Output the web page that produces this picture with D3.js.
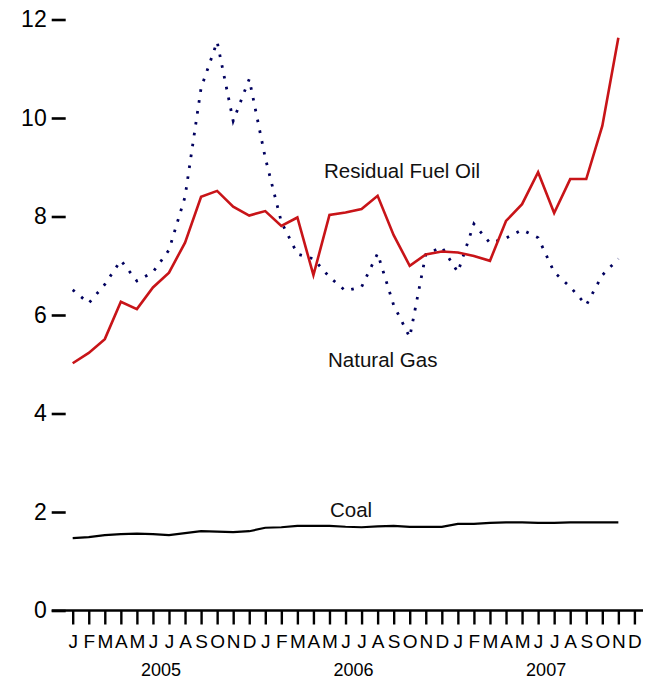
<!DOCTYPE html>
<html>
<head>
<meta charset="utf-8">
<script src="https://cdn.jsdelivr.net/npm/d3@7"></script>
<style>
  html, body { margin: 0; padding: 0; background: #fff; }
  svg { display: block; font-family: "Liberation Sans", Arial, sans-serif; }
</style>
</head>
<body>
<svg id="chart" width="652" height="679"></svg>
<script>
// ---- data ----
const monthLetters = ["J","F","M","A","M","J","J","A","S","O","N","D"];
const years = ["2005", "2006", "2007"];
const yTicks = [0, 2, 4, 6, 8, 10, 12];

// Monthly values, Jan 2005 .. Nov 2007 (35 months)
const residualFuelOil = [
  5.02, 5.23, 5.51, 6.27, 6.12, 6.56, 6.86, 7.47, 8.40, 8.52, 8.20, 8.02,
  8.11, 7.81, 7.98, 6.81, 8.03, 8.08, 8.15, 8.42, 7.62, 7.00, 7.23, 7.29,
  7.27, 7.20, 7.10, 7.91, 8.25, 8.90, 8.07, 8.76, 8.76, 9.84, 11.63
];
const naturalGas = [
  6.51, 6.24, 6.62, 7.11, 6.69, 6.87, 7.32, 8.40, 10.61, 11.55, 9.94, 10.79,
  9.19, 7.89, 7.24, 7.14, 6.77, 6.49, 6.57, 7.25, 6.20, 5.55, 7.23, 7.38,
  6.87, 7.85, 7.46, 7.56, 7.73, 7.57, 6.87, 6.57, 6.20, 6.81, 7.14
];
const coal = [
  1.47, 1.49, 1.53, 1.55, 1.56, 1.55, 1.53, 1.57, 1.61, 1.60, 1.59, 1.61,
  1.68, 1.69, 1.72, 1.72, 1.72, 1.70, 1.69, 1.71, 1.72, 1.70, 1.70, 1.70,
  1.76, 1.76, 1.78, 1.79, 1.79, 1.78, 1.78, 1.79, 1.79, 1.79, 1.79
];
const seriesLabels = ["Residual Fuel Oil", "Natural Gas", "Coal"];

// ---- layout ----
const svg = d3.select("#chart");
const nMonths = monthLetters.length * years.length; // 36
const x = d3.scaleLinear().domain([0, nMonths - 1]).range([72.7, 634.4]);
const y = d3.scaleLinear().domain([0, 12]).range([610.5, 19.5]);

// y axis (ticks only, labels on the left)
const yAxis = d3.axisLeft(y).tickValues(yTicks).tickSize(14).tickPadding(5)
  .tickFormat(d3.format("d"));
const gy = svg.append("g").attr("transform", "translate(65.7,0)").call(yAxis);
gy.select(".domain").remove();
gy.selectAll(".tick line").attr("stroke", "#000").attr("stroke-width", 2.6);
gy.selectAll(".tick text").attr("font-size", 23).attr("fill", "#000")
  .attr("font-family", "Liberation Sans, Arial, sans-serif");

// x axis
const monthIdx = d3.range(nMonths);
const xAxis = d3.axisBottom(x).tickValues(monthIdx).tickSize(14).tickPadding(10)
  .tickFormat(i => monthLetters[i % 12]);
const gx = svg.append("g").attr("transform", `translate(0,${y(0)})`).call(xAxis);
gx.select(".domain").remove();
gx.selectAll(".tick line").attr("stroke", "#000").attr("stroke-width", 2.4);
gx.selectAll(".tick text").attr("font-size", 19).attr("fill", "#000")
  .attr("font-family", "Liberation Sans, Arial, sans-serif");
svg.append("line")
  .attr("x1", 51.7).attr("x2", 643)
  .attr("y1", y(0)).attr("y2", y(0))
  .attr("stroke", "#000").attr("stroke-width", 2.6);

// year labels
svg.append("g").selectAll("text").data(years).join("text")
  .attr("x", (d, i) => (x(i * 12) + x(i * 12 + 11)) / 2)
  .attr("y", 676)
  .attr("text-anchor", "middle")
  .attr("font-size", 18)
  .attr("fill", "#000")
  .text(d => d);

// lines
const line = d3.line().x((d, i) => x(i)).y(d => y(d));

svg.append("path").datum(coal)
  .attr("d", line).attr("fill", "none")
  .attr("stroke", "#000").attr("stroke-width", 2.2);

svg.append("path").datum(naturalGas)
  .attr("d", line).attr("fill", "none")
  .attr("stroke", "#00005e").attr("stroke-width", 2.8)
  .attr("stroke-dasharray", "2.6,8.4");

svg.append("path").datum(residualFuelOil)
  .attr("d", line).attr("fill", "none")
  .attr("stroke", "#c81418").attr("stroke-width", 2.6);

// series labels
const labelPos = [[324, 178], [328, 366.5], [330, 516.5]];
svg.append("g").selectAll("text").data(seriesLabels).join("text")
  .attr("x", (d, i) => labelPos[i][0])
  .attr("y", (d, i) => labelPos[i][1])
  .attr("font-size", 20.5)
  .attr("fill", "#111")
  .text(d => d);
</script>
</body>
</html>
